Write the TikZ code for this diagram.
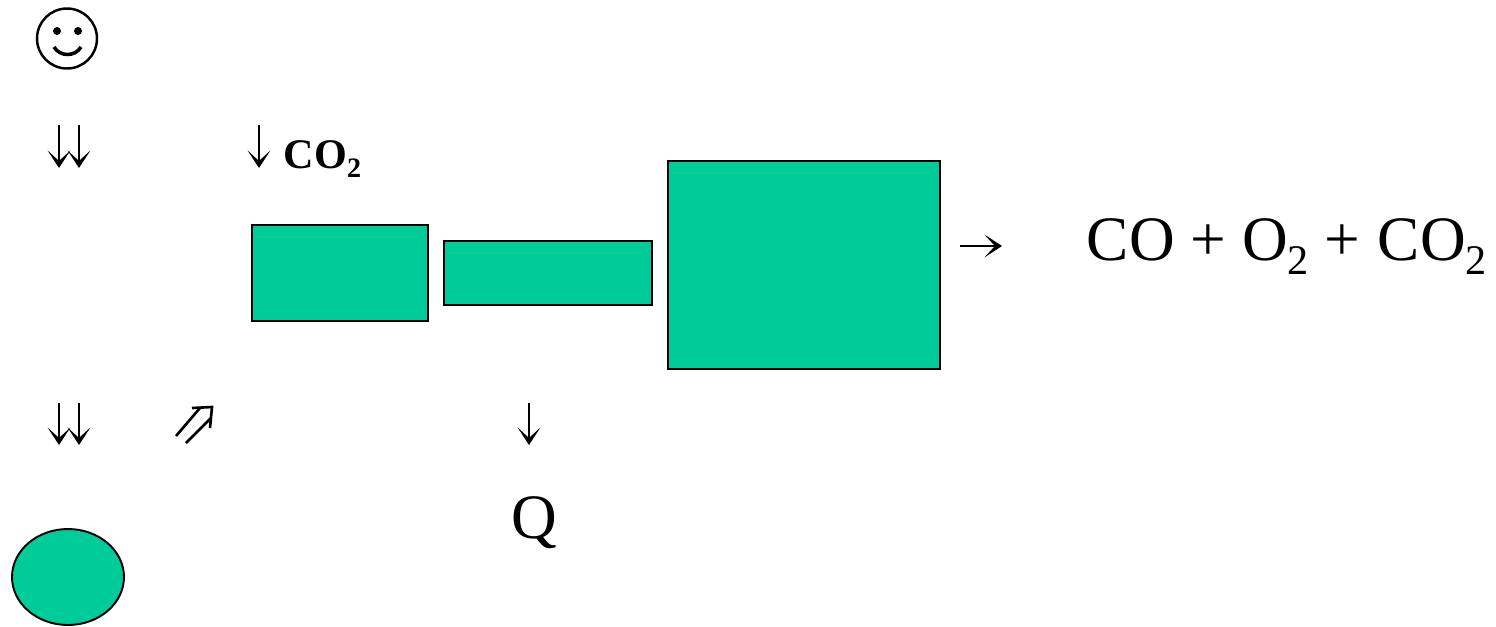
\documentclass[tikz,border=0pt]{standalone}
\usepackage{fontspec}
\setmainfont{Liberation Serif}
\usetikzlibrary{arrows.meta, shapes.geometric}
\definecolor{cgreen}{HTML}{00CC99}
\newcommand{\lowtwo}{\raisebox{-8.5pt}{\fontsize{24}{24}\selectfont 2}}
\tikzset{
  every picture/.style={line width=1.1pt},
  tank/.style={draw, fill=cgreen, inner sep=0pt, line width=1.1pt},
  big/.style={font=\fontsize{36}{36}\selectfont, inner sep=0pt},
  tip/.style={-{Stealth[length=10pt, width=13pt, inset=6pt]}, line width=1.5pt},
  slant/.style={line width=1.5pt},
}
\begin{document}
\begin{tikzpicture}[x=0.02cm, y=-0.02cm]
  \useasboundingbox (0,0) rectangle (1496,626);

  % ---- smiley
  \node[circle, draw, line width=1.4pt, minimum size=1.2cm, inner sep=0pt] (face) at (67,38.5) {};
  \fill (57,31) circle (4);
  \fill (78,31) circle (4);
  \draw[line width=2pt] (54,47) .. controls (60,57) and (75,57) .. (81,47);

  % ---- chambers
  \node[tank, minimum width=3.52cm, minimum height=1.92cm] (front) at (340,273) {};
  \node[tank, minimum width=4.16cm, minimum height=1.28cm] (pipe) at (548,273) {};
  \node[tank, minimum width=5.44cm, minimum height=4.16cm] (rear) at (804,265) {};
  \node[tank, ellipse, minimum width=2.24cm, minimum height=1.92cm] (source) at (68,577) {};

  % ---- labels
  \node[anchor=base west, inner sep=0pt, font=\fontsize{24}{24}\bfseries\selectfont] (gas) at (283,168)
    {CO\raisebox{-5.5pt}{\fontsize{16}{16}\selectfont 2}};
  \node[big, anchor=base west] (exhaust) at (1086,260) {CO + O\lowtwo{} + \hspace{1pt}CO\lowtwo};
  \node[big, anchor=base] (heat) at (534,538) {Q};

  % ---- free arrow ends
  \coordinate (a1s) at (59,125);  \coordinate (a1e) at (59,168);
  \coordinate (a2s) at (79,125);  \coordinate (a2e) at (79,168);
  \coordinate (b1s) at (59,403);  \coordinate (b1e) at (59,445);
  \coordinate (b2s) at (79,403);  \coordinate (b2e) at (79,445);
  \coordinate (c1s) at (176,436); \coordinate (c1e) at (200,408);
  \coordinate (c2s) at (186,443); \coordinate (c2e) at (211,418);
  \coordinate (ck) at (212,407);
  \coordinate (ds) at (259,125);  \coordinate (de) at (259,168);
  \coordinate (es) at (529,403);  \coordinate (ee) at (529,445);
  \coordinate (fs) at (960,246);  \coordinate (fe) at (1002,246);

  \draw[tip] (a1s) -- (a1e);
  \draw[tip] (a2s) -- (a2e);
  \draw[tip] (b1s) -- (b1e);
  \draw[tip] (b2s) -- (b2e);
  \draw[slant] (c1s) -- (c1e);
  \draw[slant] (c2s) -- (c2e);
  \draw[slant] (192,408) -- (ck) -- (210,428);
  \draw[tip] (ds) -- (de);
  \draw[tip] (es) -- (ee);
  \draw[tip] (fs) -- (fe);
\end{tikzpicture}
\end{document}
